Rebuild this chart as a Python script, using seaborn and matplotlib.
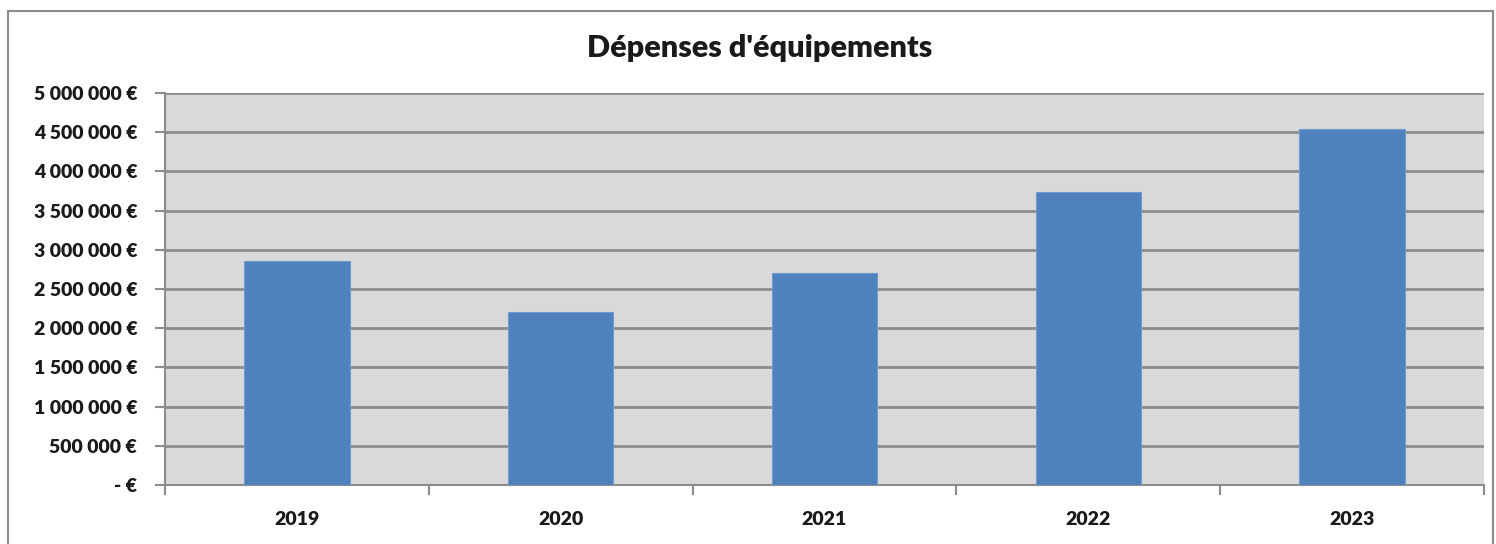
import matplotlib
matplotlib.use("Agg")
import matplotlib.pyplot as plt
import matplotlib.ticker as mticker
import matplotlib.patches as mpatches
import pandas as pd
import seaborn as sns

years = ["2019", "2020", "2021", "2022", "2023"]
depenses = [2855000, 2210000, 2705000, 3740000, 4535000]
y_ticks = [0, 500000, 1000000, 1500000, 2000000, 2500000, 3000000, 3500000, 4000000, 4500000, 5000000]

df = pd.DataFrame({"annee": years, "depenses": depenses})

sns.set_style("white")
plt.rcParams["font.family"] = ["Lato", "DejaVu Sans"]

fig = plt.figure(figsize=(14.96, 5.44), dpi=100)
ax = fig.add_axes([165 / 1496, 1 - 485 / 544, (1484 - 165) / 1496, (485 - 93) / 544])

# cadre gris autour du graphique
fig.patches.append(mpatches.Rectangle((8 / 1496, -0.05), (1493 - 8) / 1496, 1.05 - 11 / 544,
                                      transform=fig.transFigure, fill=False,
                                      edgecolor="#8c8c8c", linewidth=1.5))

ax.set_facecolor("#d9d9d9")
sns.barplot(data=df, x="annee", y="depenses", color="#4f81bd", width=0.4,
            saturation=1, edgecolor="#6f9ad0", linewidth=0.8, ax=ax, zorder=3)

ax.set_ylim(0, 5000000)
ax.set_xlim(-0.5, 4.5)
ax.set_yticks(y_ticks)
ax.yaxis.grid(True, color="#8c8c8c", linewidth=2, zorder=0)
ax.set_axisbelow(True)


def euro(v, pos):
    if v == 0:
        return "- €"
    return "{:,.0f} €".format(v).replace(",", " ")


ax.yaxis.set_major_formatter(mticker.FuncFormatter(euro))
ax.set_xticks(range(len(years)))
ax.set_xticks([i - 0.5 for i in range(len(years) + 1)], minor=True)
ax.tick_params(axis="x", which="major", bottom=True, length=0, pad=19)
ax.tick_params(axis="x", which="minor", bottom=True, length=7, width=1.5, color="#8c8c8c", direction="out")
ax.tick_params(axis="y", left=True, length=7, width=1.5, color="#8c8c8c", direction="out", pad=13)

for lab in ax.get_xticklabels() + ax.get_yticklabels():
    lab.set_fontweight("heavy")
    lab.set_fontsize(14)
    lab.set_color("#1a1a1a")

for s in ["top", "right"]:
    ax.spines[s].set_visible(False)
for s in ["left", "bottom"]:
    ax.spines[s].set_color("#8c8c8c")
    ax.spines[s].set_linewidth(1.5)

ax.set_xlabel("")
ax.set_ylabel("")
fig.text(760 / 1496, 1 - 48 / 544, "Dépenses d'équipements", ha="center", va="center",
         fontsize=22, fontweight="heavy", color="#1a1a1a")

fig.savefig("out.png", dpi=100)
